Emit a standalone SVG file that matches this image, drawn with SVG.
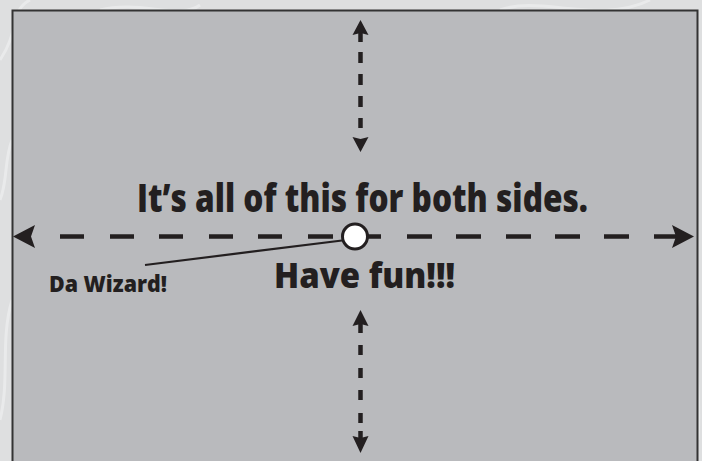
<svg xmlns="http://www.w3.org/2000/svg" width="702" height="461" viewBox="0 0 702 461">
<style>
.t{font-family:"Open Sans","Lato","Liberation Sans",sans-serif;font-weight:800;fill:#231f20}
.ln{stroke:#231f20;stroke-width:4.5;fill:none}
.hd{fill:#231f20}
.sw{fill:none;stroke:#ffffff;stroke-opacity:0.35;stroke-width:3}
</style>
<rect x="0" y="0" width="702" height="461" fill="#dedfe0"/>
<g id="texture">
<path class="sw" d="M0 60 C20 30 10 10 30 0"/>
<path class="sw" d="M100 10 C140 0 180 20 200 5"/>
<path class="sw" d="M500 10 C540 -5 600 25 650 0"/>
<path class="sw" d="M0 420 C10 380 0 340 12 300"/>
<path class="sw" d="M698 300 C690 340 702 380 698 440"/>
<path class="sw" d="M0 200 C8 180 4 160 12 140"/>
</g>
<rect id="board" x="12.5" y="10.5" width="685" height="460" fill="#b9babd" stroke="#333333" stroke-width="2"/>
<g id="connectors">
<path class="hd" d="M13 236.5 L35 225 L31 236.5 L35 248 Z"/>
<line class="ln" x1="60" y1="236.5" x2="84" y2="236.5"/>
<line class="ln" x1="110" y1="236.5" x2="134" y2="236.5"/>
<line class="ln" x1="159" y1="236.5" x2="183" y2="236.5"/>
<line class="ln" x1="209" y1="236.5" x2="233" y2="236.5"/>
<line class="ln" x1="258" y1="236.5" x2="282" y2="236.5"/>
<line class="ln" x1="308" y1="236.5" x2="333" y2="236.5"/>
<line class="ln" x1="366" y1="236.5" x2="381" y2="236.5"/>
<line class="ln" x1="407" y1="236.5" x2="432" y2="236.5"/>
<line class="ln" x1="456" y1="236.5" x2="481" y2="236.5"/>
<line class="ln" x1="506" y1="236.5" x2="531" y2="236.5"/>
<line class="ln" x1="555" y1="236.5" x2="580" y2="236.5"/>
<line class="ln" x1="604" y1="236.5" x2="629" y2="236.5"/>
<line class="ln" x1="654" y1="236.5" x2="676" y2="236.5"/>
<path class="hd" d="M694 236.5 L672 225 L676 236.5 L672 248 Z"/>
<path class="hd" d="M360.5 20 L352.5 35 L360.5 33 L368.5 35 Z"/>
<line class="ln" x1="360.5" y1="32" x2="360.5" y2="42"/>
<line class="ln" x1="360.5" y1="52" x2="360.5" y2="63"/>
<line class="ln" x1="360.5" y1="74" x2="360.5" y2="85"/>
<line class="ln" x1="360.5" y1="96" x2="360.5" y2="107"/>
<line class="ln" x1="360.5" y1="118" x2="360.5" y2="128"/>
<path class="hd" d="M360.5 152 L352.5 137 L360.5 139 L368.5 137 Z"/>
<path class="hd" d="M360.5 310 L352.5 326 L360.5 324 L368.5 326 Z"/>
<line class="ln" x1="360.5" y1="323" x2="360.5" y2="333"/>
<line class="ln" x1="360.5" y1="345" x2="360.5" y2="355"/>
<line class="ln" x1="360.5" y1="368" x2="360.5" y2="378"/>
<line class="ln" x1="360.5" y1="390" x2="360.5" y2="400"/>
<line class="ln" x1="360.5" y1="413" x2="360.5" y2="423"/>
<line class="ln" x1="360.5" y1="431" x2="360.5" y2="438"/>
<path class="hd" d="M360.5 453 L352.5 436 L360.5 438 L368.5 436 Z"/>
<line x1="145" y1="265" x2="342" y2="240.5" stroke="#231f20" stroke-width="2.2"/>
</g>
<g id="wizard">
<circle cx="355" cy="236.5" r="12.5" fill="#ffffff" stroke="#231f20" stroke-width="3"/>
</g>
<g id="labels">
<text class="t" x="137" y="212" font-size="38" textLength="451" lengthAdjust="spacingAndGlyphs">It’s all of this for both sides.</text>
<text class="t" x="274" y="288" font-size="36" textLength="181" lengthAdjust="spacingAndGlyphs">Have fun!!!</text>
<text class="t" x="49" y="292" font-size="23" textLength="118" lengthAdjust="spacingAndGlyphs">Da Wizard!</text>
</g>
</svg>
